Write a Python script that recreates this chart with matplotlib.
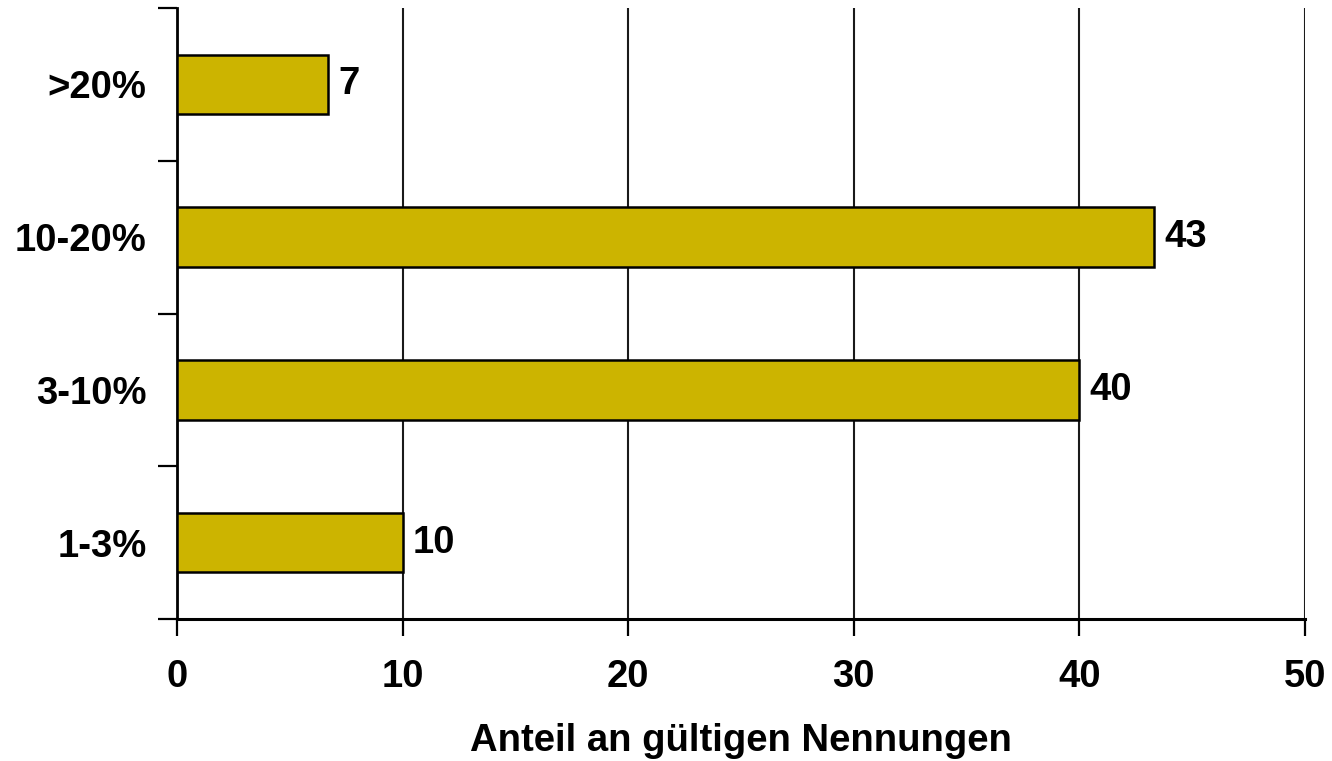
import matplotlib.pyplot as plt

categories = ["1-3%", "3-10%", "10-20%", ">20%"]
values = [10.0, 40.0, 43.3, 6.7]
value_labels = ["10", "40", "43", "7"]
xticks = [0, 10, 20, 30, 40, 50]

plt.rcParams["font.family"] = ["Liberation Sans", "DejaVu Sans"]
plt.rcParams["font.weight"] = "bold"
FS = 27.5

fig = plt.figure(figsize=(13.32, 7.61), dpi=100)
ax = fig.add_axes([177 / 1332, 142 / 761, 1128 / 1332, 611 / 761])

ypos = list(range(len(categories)))
ax.barh(ypos, values, height=0.39, color="#CCB400", edgecolor="black", linewidth=1.8, zorder=3)

for y, v, lab in zip(ypos, values, value_labels):
    ax.text(v + 0.45, y, lab, va="center", ha="left", fontsize=FS, fontweight="bold", zorder=4)

ax.set_xlim(0, 50)
ax.set_ylim(-0.5, 3.5)
ax.set_xticks(xticks)
ax.set_xticklabels([str(t) for t in xticks], fontsize=FS, fontweight="bold")

# category labels centred in bands, tick marks on band edges
ax.set_yticks([y - 0.5 for y in ypos] + [3.5])
ax.set_yticklabels([])
ax.set_yticks(ypos, minor=True)
ax.set_yticklabels(categories, minor=True, fontsize=FS, fontweight="bold")
ax.tick_params(axis="y", which="minor", length=0, pad=22)
ax.tick_params(axis="y", which="major", length=14, width=1.6, direction="out")
ax.tick_params(axis="x", length=12, width=1.6, direction="out", pad=17)

ax.xaxis.grid(True, color="#1a1a1a", linewidth=1.5, zorder=0)
ax.set_axisbelow(True)
for s in ["top", "right"]:
    ax.spines[s].set_visible(False)
ax.spines["left"].set_linewidth(2)
ax.spines["bottom"].set_linewidth(2.2)

ax.set_xlabel("Anteil an gültigen Nennungen", fontsize=FS, fontweight="bold", labelpad=20)

fig.savefig("out.png", dpi=100)
